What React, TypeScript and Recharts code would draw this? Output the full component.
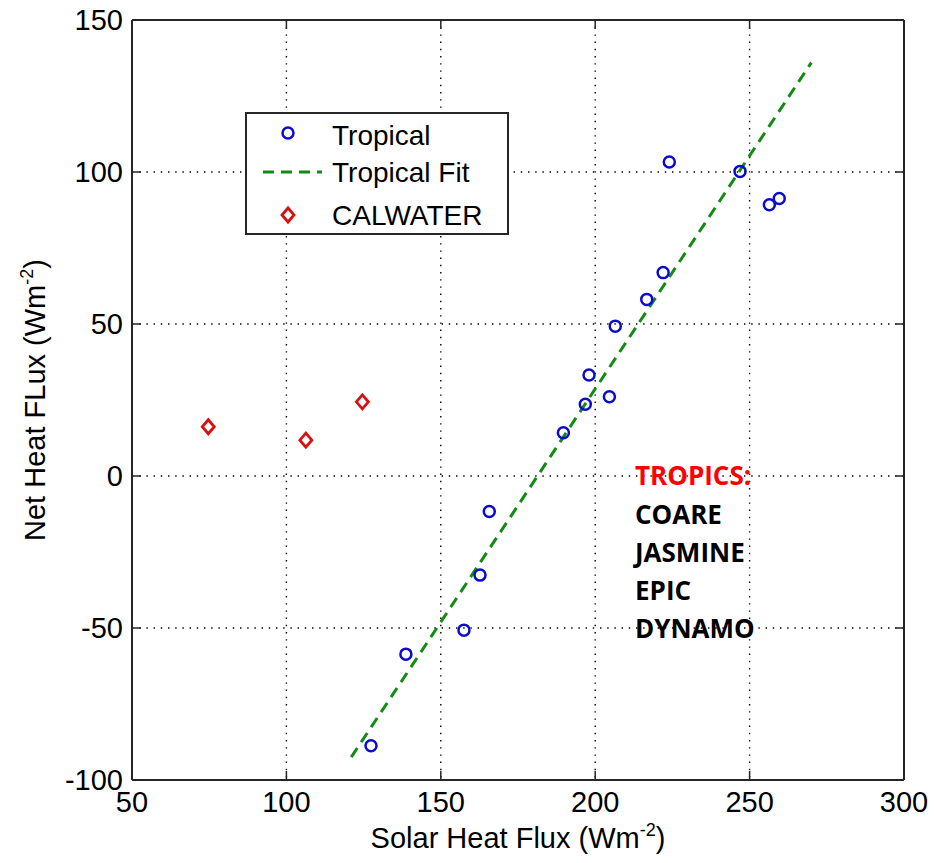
import React from 'react';
import { ScatterChart, Scatter, XAxis, YAxis, CartesianGrid } from 'recharts';

// values
const tropicalX = [127.4, 138.7, 157.5, 162.7, 165.7, 189.7, 196.8, 198.0, 204.6, 206.5, 216.7, 222.0, 224.0, 246.9, 256.4, 259.6];
const tropicalY = [-88.7, -58.6, -50.7, -32.6, -11.7, 14.2, 23.6, 33.2, 26.1, 49.3, 58.1, 66.9, 103.3, 100.2, 89.2, 91.3];
const calwaterX = [74.7, 106.3, 124.6];
const calwaterY = [16.2, 11.8, 24.4];
const fitX = [121, 270];
const fitY = [-92.5, 136];
const xTicks = [50, 100, 150, 200, 250, 300];
const yTicks = [-100, -50, 0, 50, 100, 150];
const seriesNames = ['Tropical', 'Tropical Fit', 'CALWATER'];
const campaignTitle = 'TROPICS:';
const campaigns = ['COARE', 'JASMINE', 'EPIC', 'DYNAMO'];

const tropical = tropicalX.map((x, i) => ({ x, y: tropicalY[i] }));
const calwater = calwaterX.map((x, i) => ({ x, y: calwaterY[i] }));
const fit = fitX.map((x, i) => ({ x, y: fitY[i] }));

const BLUE = '#0a0ad0';
const RED = '#d81010';
const GREEN = '#138a13';
const AXIS = '#262626';
const FONT = '"Liberation Sans", Arial, sans-serif';

const Circle = (props: any) => (
  <circle cx={props.cx} cy={props.cy} r={5.5} fill="none" stroke={BLUE} strokeWidth={2.5} />
);

const Diamond = (props: any) => {
  const { cx, cy } = props;
  return (
    <path
      d={`M${cx},${cy - 7} L${cx + 6},${cy} L${cx},${cy + 7} L${cx - 6},${cy} Z`}
      fill="none"
      stroke={RED}
      strokeWidth={2.8}
    />
  );
};

const NoDot = () => <g />;

const XLabel = (props: any) => {
  const vb = props.viewBox;
  return (
    <text x={vb.x + vb.width / 2} y={848} textAnchor="middle" fontSize={29} fontFamily={FONT} fill="#000">
      <tspan>Solar Heat Flux (Wm</tspan>
      <tspan dy={-12} fontSize={18}>-2</tspan>
      <tspan dy={12}>)</tspan>
    </text>
  );
};

const YLabel = (props: any) => {
  const vb = props.viewBox;
  const cy = vb.y + vb.height / 2;
  return (
    <text x={0} y={0} transform={`translate(45, ${cy}) rotate(-90)`} textAnchor="middle" fontSize={29} fontFamily={FONT} fill="#000">
      <tspan>Net Heat FLux (Wm</tspan>
      <tspan dy={-12} fontSize={18}>-2</tspan>
      <tspan dy={12}>)</tspan>
    </text>
  );
};

const tickStyle = { fill: '#000', fontSize: 29, fontFamily: FONT };

const LegendBox = () => (
  <div
    style={{
      position: 'absolute',
      left: 245,
      top: 112,
      width: 264,
      height: 123,
      boxSizing: 'border-box',
      border: `2px solid ${AXIS}`,
      background: '#fff',
    }}
  >
    <svg width={260} height={119} style={{ position: 'absolute', left: 0, top: 0 }}>
      <circle cx={41} cy={19} r={5.5} fill="none" stroke={BLUE} strokeWidth={2.5} />
      <line x1={16} y1={58} x2={75} y2={58} stroke={GREEN} strokeWidth={3} strokeDasharray="11 7" />
      <path d="M41,94 L47,101 L41,108 L35,101 Z" fill="none" stroke={RED} strokeWidth={2.8} />
      {seriesNames.map((name, i) => (
        <text key={name} x={85} y={[31, 68, 111][i]} fontSize={28} fontFamily={FONT} fill="#000">
          {name}
        </text>
      ))}
    </svg>
  </div>
);

const Annotation = () => (
  <svg width={935} height={863} style={{ position: 'absolute', left: 0, top: 0, pointerEvents: 'none' }}>
    <text x={635} y={485} fontSize={26} fontWeight="bold" fontFamily='"Open Sans", sans-serif' fill="#ff0000">
      {campaignTitle}
    </text>
    {campaigns.map((c, i) => (
      <text key={c} x={635} y={524 + i * 38} fontSize={26} fontWeight="bold" fontFamily='"Open Sans", sans-serif' fill="#000">
        {c}
      </text>
    ))}
  </svg>
);

export default function App() {
  return (
    <div style={{ position: 'absolute', left: 0, top: 0, width: 935, height: 863, background: '#fff' }}>
      <ScatterChart width={935} height={863} margin={{ top: 0, right: 0, bottom: 0, left: 0 }}>
        <CartesianGrid stroke="#000" strokeWidth={1.4} strokeDasharray="1.4 5.8" />
        <XAxis
          type="number"
          dataKey="x"
          domain={[50, 300]}
          ticks={xTicks}
          height={83}
          tick={tickStyle}
          tickSize={-9}
          tickMargin={20}
          axisLine={{ stroke: AXIS, strokeWidth: 2 }}
          tickLine={{ stroke: AXIS, strokeWidth: 1.5 }}
          label={<XLabel />}
          allowDataOverflow
        />
        <XAxis
          xAxisId="top"
          orientation="top"
          type="number"
          dataKey="x"
          domain={[50, 300]}
          ticks={xTicks}
          height={20}
          tickFormatter={() => ''}
          tickSize={-9}
          axisLine={{ stroke: AXIS, strokeWidth: 2 }}
          tickLine={{ stroke: AXIS, strokeWidth: 1.5 }}
          allowDataOverflow
        />
        <YAxis
          type="number"
          dataKey="y"
          domain={[-100, 150]}
          ticks={yTicks}
          width={132}
          tick={tickStyle}
          tickSize={-9}
          tickMargin={18}
          axisLine={{ stroke: AXIS, strokeWidth: 2 }}
          tickLine={{ stroke: AXIS, strokeWidth: 1.5 }}
          label={<YLabel />}
          allowDataOverflow
        />
        <YAxis
          yAxisId="right"
          orientation="right"
          type="number"
          dataKey="y"
          domain={[-100, 150]}
          ticks={yTicks}
          width={31}
          tickFormatter={() => ''}
          tickSize={-9}
          axisLine={{ stroke: AXIS, strokeWidth: 2 }}
          tickLine={{ stroke: AXIS, strokeWidth: 1.5 }}
          allowDataOverflow
        />
        <Scatter
          name="Tropical Fit"
          data={fit}
          line={{ stroke: GREEN, strokeWidth: 3, strokeDasharray: '11 7' }}
          shape={NoDot}
          isAnimationActive={false}
        />
        <Scatter name="Tropical" data={tropical} shape={Circle} isAnimationActive={false} />
        <Scatter name="CALWATER" data={calwater} shape={Diamond} isAnimationActive={false} />
      </ScatterChart>
      <LegendBox />
      <Annotation />
    </div>
  );
}
